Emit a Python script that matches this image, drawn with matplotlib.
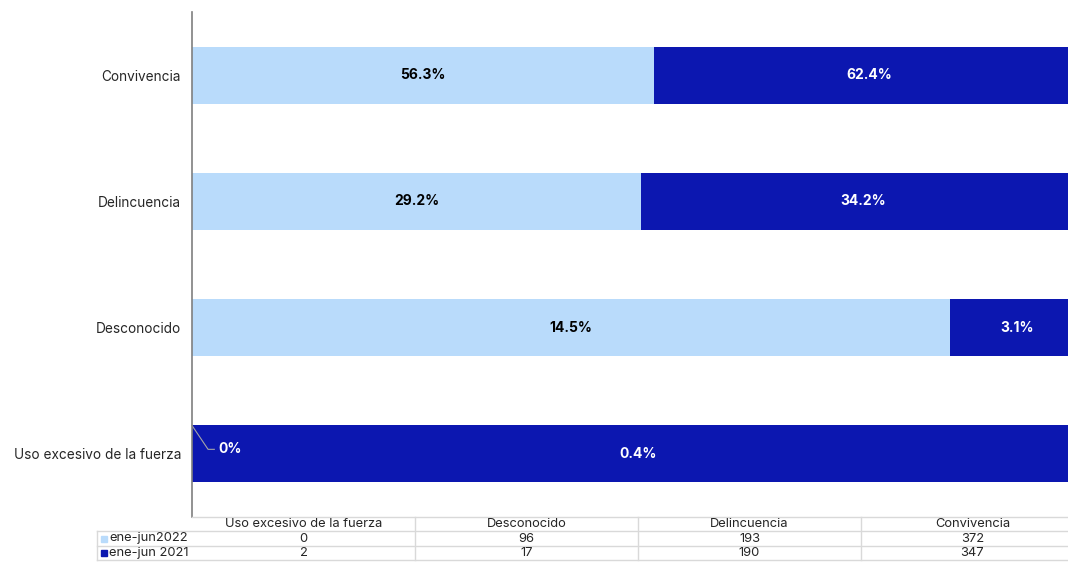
import matplotlib.pyplot as plt

plt.rcParams["font.family"] = ["Inter", "DejaVu Sans"]

categories = ["Uso excesivo de la fuerza", "Desconocido", "Delincuencia", "Convivencia"]
series_names = ["ene-jun2022", "ene-jun 2021"]
values_2022 = [0, 96, 193, 372]
values_2021 = [2, 17, 190, 347]

light = "#B9DBFB"
dark = "#0C17B0"
grid_col = "#D9D9D9"


def pct_label(v, total):
    p = v / total * 100
    if p == 0:
        return "0%"
    return f"{p:.1f}%"


fig = plt.figure(figsize=(10.68, 5.62), dpi=100)
ax = fig.add_axes([192 / 1068, 45 / 562, 892 / 1068, 505 / 562])

tot22 = sum(values_2022)
tot21 = sum(values_2021)
ypos = list(range(len(categories)))
share22 = [a / (a + b) for a, b in zip(values_2022, values_2021)]
share21 = [b / (a + b) for a, b in zip(values_2022, values_2021)]

bar_h = 0.45
ax.barh(ypos, share22, height=bar_h, color=light)
ax.barh(ypos, share21, left=share22, height=bar_h, color=dark)

for i in ypos:
    lab22 = pct_label(values_2022[i], tot22)
    lab21 = pct_label(values_2021[i], tot21)
    if share22[i] > 0:
        ax.text(share22[i] / 2, i, lab22, ha="center", va="center",
                fontsize=10, fontweight="bold", color="black")
    else:
        # leader line for the empty segment
        ax.plot([0, 0.018, 0.025], [i + bar_h / 2, i + 0.036, i + 0.036],
                color="#A6A6A6", lw=0.8, clip_on=False)
        ax.text(0.030, i + 0.036, lab22, ha="left", va="center",
                fontsize=10, fontweight="bold", color="white")
    ax.text(share22[i] + share21[i] / 2, i, lab21, ha="center", va="center",
            fontsize=10, fontweight="bold", color="white")

ax.set_xlim(0, 1)
ax.set_ylim(-0.5, len(categories) - 0.5)
ax.set_yticks(ypos)
ax.set_yticklabels(categories, fontsize=9.8, color="#262626")
ax.set_xticks([])
ax.tick_params(axis="y", length=0, pad=8)
for s in ["top", "right", "bottom"]:
    ax.spines[s].set_visible(False)
ax.spines["left"].set_color("#7F7F7F")
ax.spines["left"].set_linewidth(1.2)

# data table under the chart
lw = 95 / 892
tax = fig.add_axes([97 / 1068, 2 / 562, 987 / 1068, 43 / 562])
tax.set_xlim(-lw, 1)
tax.set_ylim(0, 3)
tax.axis("off")

ncol = len(categories)
cw = 1 / ncol
for y in [0, 1, 2]:
    tax.plot([-lw, 1], [y, y], color=grid_col, lw=1, clip_on=False)
tax.plot([0, 1], [3, 3], color=grid_col, lw=1, clip_on=False)
for k in range(1, ncol + 1):
    tax.plot([k * cw, k * cw], [0, 3], color=grid_col, lw=1, clip_on=False)
tax.plot([-lw, -lw], [0, 2], color=grid_col, lw=1, clip_on=False)

for k, c in enumerate(categories):
    tax.text((k + 0.5) * cw, 2.5, c, ha="center", va="center", fontsize=9.3, color="#262626")

rows = [(series_names[0], values_2022, light), (series_names[1], values_2021, dark)]
for r, (name, vals, col) in enumerate(rows):
    yc = 1.5 - r
    tax.plot([-lw + 0.008], [yc], marker="s", ms=5, color=col, clip_on=False)
    tax.text(-lw + 0.014, yc, name, ha="left", va="center", fontsize=9.3, color="#262626")
    for k, v in enumerate(vals):
        tax.text((k + 0.5) * cw, yc, str(v), ha="center", va="center", fontsize=9.3, color="#262626")

fig.savefig("out.png", dpi=100)
